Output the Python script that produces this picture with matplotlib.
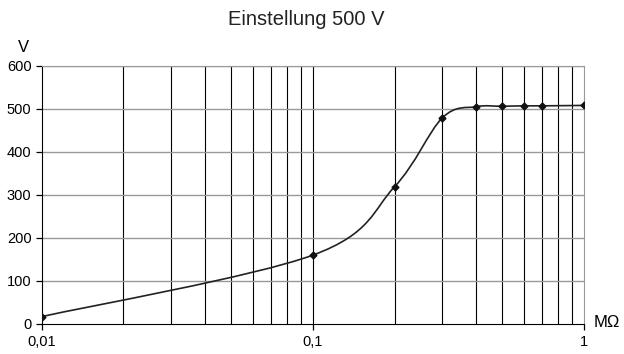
import numpy as np
import matplotlib.pyplot as plt
from matplotlib.path import Path
from matplotlib.patches import PathPatch

plt.rcParams['font.family'] = ['Liberation Sans', 'DejaVu Sans']

# Messwerte (Widerstand in MOhm, Spannung in V)
r_mohm = [0.01, 0.1, 0.2, 0.3, 0.4, 0.5, 0.6, 0.7, 1.0]
u_volt = [17, 160, 319, 479, 505, 506, 507, 507, 508]

x_ticks = [0.01, 0.1, 1]
x_ticklabels = ['0,01', '0,1', '1']
y_ticks = [0, 100, 200, 300, 400, 500, 600]

fig = plt.figure(figsize=(6.24, 3.54), dpi=100)
ax = fig.add_axes([0.067, 0.085, 0.869, 0.729])
ax.set_xscale('log')
ax.set_xlim(0.01, 1)
ax.set_ylim(0, 600)

# Gitter: vertikal schwarz, horizontal grau
minor = [m * d for d in (0.01, 0.1) for m in range(2, 10)]
for xv in minor + [0.1]:
    ax.axvline(xv, color='black', linewidth=0.8, zorder=1)
for yv in y_ticks[1:]:
    ax.axhline(yv, color='#999999', linewidth=1.0, zorder=1)

# geglaettete Linie (Bezier wie Excel) im log-x Raum
lx = np.log10(r_mohm)
uy = np.array(u_volt, dtype=float)
n = len(lx)
verts = [(r_mohm[0], uy[0])]
codes = [Path.MOVETO]
for i in range(n - 1):
    p0 = np.array([lx[max(i - 1, 0)], uy[max(i - 1, 0)]])
    p1 = np.array([lx[i], uy[i]])
    p2 = np.array([lx[i + 1], uy[i + 1]])
    p3 = np.array([lx[min(i + 2, n - 1)], uy[min(i + 2, n - 1)]])
    c1 = p1 + (p2 - p0) / 6
    c2 = p2 - (p3 - p1) / 6
    for c in (c1, c2, p2):
        verts.append((10 ** c[0], c[1]))
        codes.append(Path.CURVE4)
ax.add_patch(PathPatch(Path(verts, codes), facecolor='none',
                       edgecolor='#222222', linewidth=1.2, zorder=3))
ax.plot(r_mohm, u_volt, linestyle='none', marker='D', markersize=3.5,
        color='#111111', zorder=4)

ax.set_xticks(x_ticks)
ax.set_xticklabels(x_ticklabels)
ax.xaxis.set_minor_locator(plt.NullLocator())
ax.set_yticks(y_ticks)
ax.tick_params(axis='both', labelsize=10.5, length=4, width=0.9, direction='out')
ax.tick_params(axis='x', pad=4)

ax.spines['top'].set_color('#999999')
ax.spines['right'].set_color('#999999')
ax.spines['left'].set_color('black')
ax.spines['bottom'].set_color('black')

fig.text(0.49, 0.945, 'Einstellung 500 V', ha='center', va='center', fontsize=14.5,
         color='#222222')
fig.text(0.037, 0.865, 'V', ha='center', va='center', fontsize=12)
fig.text(0.972, 0.09, 'M\u03a9', ha='center', va='center', fontsize=12)

plt.savefig('out.png', dpi=100)
